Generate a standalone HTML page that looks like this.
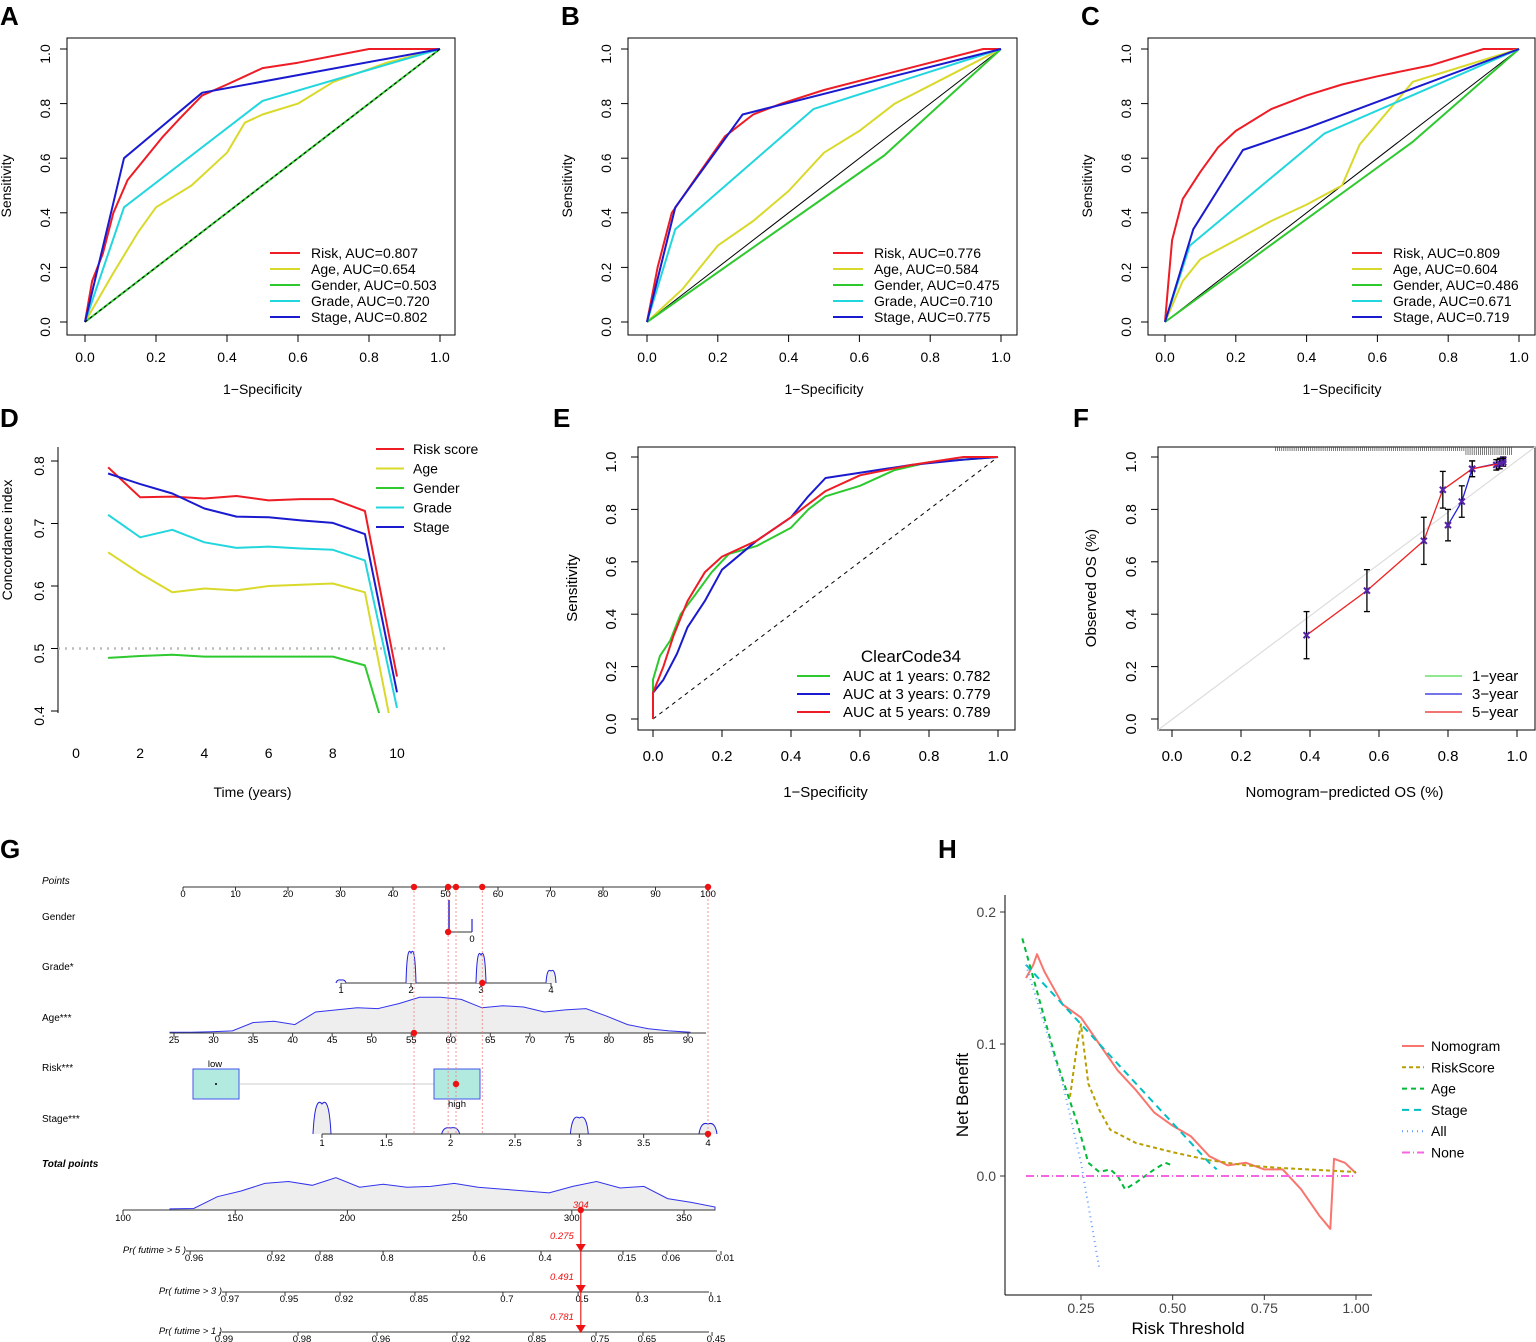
<!DOCTYPE html>
<html><head><meta charset="utf-8"><style>
body{margin:0;background:#fff}
svg{display:block;font-family:"Liberation Sans",Arial,sans-serif}
</style></head><body>
<svg id="fig" width="1536" height="1342" viewBox="0 0 1536 1342">
<defs>
<clipPath id="clipD"><rect x="58" y="447" width="387" height="266"/></clipPath>
<clipPath id="clipH"><rect x="1005" y="895" width="367" height="400"/></clipPath>
</defs>
<g id="root"></g>
</svg>
<script>
// ---------- DATA ----------
const rocLabels = ["Risk","Age","Gender","Grade","Stage"];
const rocColors = ["#EE1C25","#D9D92B","#2EC92E","#22D6DE","#1A1ACF"];
const aucA = ["0.807","0.654","0.503","0.720","0.802"];
const aucB = ["0.776","0.584","0.475","0.710","0.775"];
const aucC = ["0.809","0.604","0.486","0.671","0.719"];
const rocA = [
 [[0,0],[0.02,0.15],[0.05,0.25],[0.08,0.4],[0.12,0.52],[0.17,0.6],[0.22,0.68],[0.27,0.75],[0.33,0.83],[0.4,0.87],[0.45,0.9],[0.5,0.93],[0.6,0.95],[0.8,1],[1,1]],
 [[0,0],[0.08,0.18],[0.15,0.33],[0.2,0.42],[0.3,0.5],[0.4,0.62],[0.45,0.73],[0.5,0.76],[0.6,0.8],[0.7,0.88],[0.85,0.95],[1,1]],
 [[0,0],[1,1]],
 [[0,0],[0.11,0.42],[0.5,0.81],[1,1]],
 [[0,0],[0.11,0.6],[0.33,0.84],[1,1]]];
const rocB = [
 [[0,0],[0.03,0.2],[0.07,0.4],[0.15,0.55],[0.22,0.68],[0.3,0.76],[0.38,0.8],[0.5,0.85],[0.65,0.9],[0.8,0.95],[0.95,1],[1,1]],
 [[0,0],[0.1,0.12],[0.2,0.28],[0.3,0.37],[0.4,0.48],[0.5,0.62],[0.6,0.7],[0.7,0.8],[0.85,0.9],[1,1]],
 [[0,0],[0.67,0.61],[1,1]],
 [[0,0],[0.08,0.34],[0.47,0.78],[1,1]],
 [[0,0],[0.08,0.42],[0.27,0.76],[1,1]]];
const rocC = [
 [[0,0],[0.01,0.15],[0.02,0.3],[0.05,0.45],[0.1,0.55],[0.15,0.64],[0.2,0.7],[0.3,0.78],[0.4,0.83],[0.5,0.87],[0.6,0.9],[0.75,0.94],[0.9,1],[1,1]],
 [[0,0],[0.05,0.15],[0.1,0.23],[0.2,0.3],[0.3,0.37],[0.4,0.43],[0.5,0.5],[0.55,0.65],[0.7,0.88],[1,1]],
 [[0,0],[0.7,0.66],[1,1]],
 [[0,0],[0.07,0.28],[0.45,0.69],[1,1]],
 [[0,0],[0.08,0.34],[0.22,0.63],[0.4,0.71],[1,1]]];
const unitTicks = [0,0.2,0.4,0.6,0.8,1.0];

const cTime = [1,2,3,4,5,6,7,8,9,10];
const cLabels = ["Risk score","Age","Gender","Grade","Stage"];
const cRisk   = [0.79,0.742,0.743,0.74,0.744,0.737,0.739,0.739,0.72,0.455];
const cAge    = [0.654,0.62,0.59,0.596,0.593,0.6,0.602,0.604,0.59,0.33];
const cGender = [0.485,0.488,0.49,0.487,0.487,0.487,0.487,0.487,0.473,0.3];
const cGrade  = [0.714,0.678,0.69,0.67,0.661,0.663,0.66,0.658,0.641,0.405];
const cStage  = [0.78,0.763,0.748,0.724,0.711,0.71,0.705,0.701,0.683,0.43];
const dXTicks = [0,2,4,6,8,10];
const dYTicks = [0.4,0.5,0.6,0.7,0.8];

const tdLabels = ["AUC at 1 years: 0.782","AUC at 3 years: 0.779","AUC at 5 years: 0.789"];
const td1 = [[0,0],[0,0.15],[0.02,0.24],[0.05,0.3],[0.08,0.4],[0.12,0.47],[0.17,0.56],[0.22,0.63],[0.3,0.66],[0.4,0.73],[0.45,0.8],[0.5,0.85],[0.6,0.89],[0.7,0.95],[0.8,0.98],[1,1]];
const td3 = [[0,0],[0,0.1],[0.03,0.15],[0.07,0.25],[0.1,0.35],[0.15,0.45],[0.2,0.57],[0.3,0.68],[0.4,0.77],[0.45,0.85],[0.5,0.92],[0.6,0.94],[0.75,0.97],[0.9,0.99],[1,1]];
const td5 = [[0,0],[0,0.1],[0.03,0.2],[0.06,0.32],[0.1,0.45],[0.15,0.56],[0.2,0.62],[0.3,0.68],[0.4,0.77],[0.45,0.82],[0.5,0.87],[0.6,0.93],[0.75,0.97],[0.9,1],[1,1]];

const cal1 = [[0.94,0.97,0.02],[0.96,0.99,0.01]];
const cal3 = [[0.8,0.74,0.06],[0.84,0.83,0.06],[0.87,0.955,0.03],[0.96,0.98,0.015]];
const cal5 = [[0.39,0.32,0.09],[0.565,0.49,0.08],[0.73,0.68,0.09],[0.785,0.875,0.07],[0.87,0.955,0.03],[0.95,0.975,0.02]];

const dcaLabels = ["Nomogram","RiskScore","Age","Stage","All","None"];
const dcaNomo = [[0.1,0.15],[0.12,0.16],[0.13,0.168],[0.15,0.155],[0.18,0.14],[0.2,0.13],[0.25,0.12],[0.3,0.1],[0.35,0.08],[0.4,0.065],[0.45,0.048],[0.5,0.038],[0.55,0.03],[0.6,0.015],[0.65,0.008],[0.7,0.01],[0.75,0.005],[0.8,0.005],[0.85,-0.01],[0.9,-0.03],[0.93,-0.04],[0.94,0.013],[0.97,0.01],[1,0.002]];
const dcaRisk = [[0.22,0.06],[0.24,0.1],[0.25,0.115],[0.27,0.07],[0.3,0.05],[0.33,0.035],[0.4,0.025],[0.5,0.018],[0.6,0.012],[0.7,0.008],[0.8,0.006],[1,0.003]];
const dcaAge = [[0.09,0.18],[0.12,0.15],[0.15,0.12],[0.18,0.09],[0.21,0.065],[0.24,0.04],[0.27,0.01],[0.3,0.003],[0.33,0.005],[0.35,0],[0.37,-0.01],[0.4,-0.005],[0.45,0.005],[0.48,0.01],[0.5,0.008]];
const dcaStage = [[0.1,0.16],[0.2,0.13],[0.3,0.1],[0.4,0.07],[0.5,0.04],[0.6,0.01],[0.62,0.005]];
const dcaAll = [[0.1,0.16],[0.2,0.07],[0.25,0.01],[0.3,-0.07]];
const dcaNone = [[0.1,0],[1,0]];

// nomogram
const ptsTicks = [0,10,20,30,40,50,60,70,80,90,100];
const gradeTicks = [1,2,3,4];
const ageTicks = [25,30,35,40,45,50,55,60,65,70,75,80,85,90];
const stageTicks = [1,1.5,2,2.5,3,3.5,4];
const totTicks = [100,150,200,250,300,350];
const pr5Labels = ["0.96","0.92","0.88","0.8","0.6","0.4","0.15","0.06","0.01"];
const pr5Tot = [129.9,166.4,187.8,215.9,256.9,286.3,322.8,342.4,366.5];
const pr3Labels = ["0.97","0.95","0.92","0.85","0.7","0.5","0.3","0.1"];
const pr3Tot = [145.9,172.2,196.7,230.1,269.3,302.8,329.5,362];
const pr1Labels = ["0.99","0.98","0.96","0.92","0.85","0.75","0.65","0.45"];
const pr1Tot = [143.2,178,213.2,248.8,282.7,310.8,331.7,362.5];
const totalScore = 304;
const predVals = ["0.275","0.491","0.781"];
const ageDens = [0.02,0.02,0.03,0.05,0.25,0.28,0.2,0.5,0.55,0.6,0.58,0.7,0.85,0.85,0.8,0.6,0.65,0.62,0.5,0.55,0.58,0.4,0.2,0.1,0.05,0.02];
const totDens = [0.03,0.04,0.35,0.5,0.7,0.75,0.65,0.85,0.6,0.68,0.6,0.62,0.7,0.6,0.55,0.5,0.45,0.62,0.75,0.58,0.62,0.3,0.2,0.08];

// ---------- HELPERS ----------
const NS="http://www.w3.org/2000/svg";
const root=document.getElementById('root');
function el(tag,attrs,parent,text){const e=document.createElementNS(NS,tag);for(const k in attrs)e.setAttribute(k,attrs[k]);if(text!==undefined)e.textContent=text;(parent||root).appendChild(e);return e;}
function txt(x,y,s,opt,parent){opt=opt||{};const t=el('text',{x:x,y:y,'font-size':opt.size||14,'text-anchor':opt.anchor||'middle',fill:opt.fill||'#000'},parent,s);if(opt.rot)t.setAttribute('transform','rotate(-90 '+x+' '+y+')');if(opt.weight)t.setAttribute('font-weight',opt.weight);if(opt.italic)t.setAttribute('font-style','italic');return t;}
function line(x1,y1,x2,y2,st,w,parent,dash){const l=el('line',{x1:x1,y1:y1,x2:x2,y2:y2,stroke:st||'#000','stroke-width':w||1},parent);if(dash)l.setAttribute('stroke-dasharray',dash);return l;}
function poly(pts,fx,fy,col,w,parent,dash){const d=pts.map(p=>fx(p[0]).toFixed(1)+','+fy(p[1]).toFixed(1)).join(' ');const p=el('polyline',{points:d,fill:'none',stroke:col,'stroke-width':w||2,'stroke-linejoin':'round'},parent);if(dash)p.setAttribute('stroke-dasharray',dash);return p;}
function panelLetter(x,y,s){const t=txt(x,y,s,{size:26,weight:'bold',anchor:'start',name:'panel-letter-'+s.toLowerCase()});}
function lin(d0,d1,r0,r1){return v=>r0+(v-d0)*(r1-r0)/(d1-d0);}

// ---------- ROC PANELS ----------
function rocPanel(id,letter,bx0,bx1,fx,data,aucs,lx){
  const g=el('g',{},root);
  const fy=lin(0,1,322,49);
  panelLetter(bx0-67+0,25,letter);
  el('rect',{x:bx0,y:38,width:bx1-bx0,height:297,fill:'none',stroke:'#000'},g);
  unitTicks.forEach(t=>{line(fx(t),335,fx(t),342,'#000',1,g);txt(fx(t),362,t.toFixed(1),{name:'x-tick'},g);
    line(bx0,fy(t),bx0-7,fy(t),'#000',1,g);txt(bx0-17,fy(t)+5,t.toFixed(1),{rot:true,name:'y-tick'},g);});
  txt(fx(0.5),394,'1\u2212Specificity',{name:'x-axis-title'},g);
  txt(bx0-56,186,'Sensitivity',{rot:true,name:'y-axis-title'},g);
  line(fx(0),fy(0),fx(1),fy(1),'#000',1,g);
  data.forEach((s,i)=>{const p=poly(s,fx,fy,rocColors[i],2,g);});
  if(id==='a'){line(fx(0),fy(0),fx(1),fy(1),'#000',1,g,'3,3');}
  aucs.forEach((a,i)=>{const y=253+i*16;line(lx,y,lx+30,y,rocColors[i],2,g);
    const t=txt(lx+41,y+5,rocLabels[i]+', AUC='+a,{anchor:'start',name:'legend-entry'},g);});
}
rocPanel('a','A',67,455,lin(0,1,85,440),rocA,aucA,270);
rocPanel('b','B',628,1017,lin(0,1,647,1001),rocB,aucB,833);
rocPanel('c','C',1148,1535,lin(0,1,1165,1519),rocC,aucC,1352);

// ---------- PANEL D ----------
(function(){
  const g=el('g',{},root);
  panelLetter(0,427,'D');
  const fx=lin(0,10,76,397),fy=lin(0.4,0.8,711,461);
  line(58,713,58,447,'#000',1,g);
  dYTicks.forEach(t=>{line(58,fy(t),51,fy(t),'#000',1,g);txt(44,fy(t)+5,t.toFixed(1),{rot:true,name:'y-tick'},g);});
  line(76,740,397,740,'#fff',0,g);
  dXTicks.forEach(t=>{txt(fx(t),758,String(t),{name:'x-tick'},g);});
  txt(fx(5.5),797,'Time (years)',{name:'x-axis-title'},g);
  txt(12,540,'Concordance index',{rot:true,name:'y-axis-title'},g);
  line(58,fy(0.5),445,fy(0.5),'#bbb',2.5,g,'2,5');
  const series=[cRisk,cAge,cGender,cGrade,cStage];
  const cg=el('g',{'clip-path':'url(#clipD)'},g);
  series.forEach((s,i)=>{const p=poly(cTime.map((t,j)=>[t,s[j]]),fx,fy,rocColors[i],2,cg);});
  cLabels.forEach((l,i)=>{const y=449+i*19.5;line(376,y,404,y,rocColors[i],2,g);txt(413,y+5,l,{anchor:'start',name:'legend-entry'},g);});
})();

// ---------- PANEL E ----------
(function(){
  const g=el('g',{},root);
  panelLetter(553,427,'E');
  const fx=lin(0,1,653,998),fy=lin(0,1,719,457);
  el('rect',{x:638,y:447,width:377,height:283,fill:'none',stroke:'#000'},g);
  unitTicks.forEach(t=>{line(fx(t),730,fx(t),737,'#000',1,g);txt(fx(t),761,t.toFixed(1),{size:15,name:'x-tick'},g);
    line(638,fy(t),631,fy(t),'#000',1,g);txt(616,fy(t)+5,t.toFixed(1),{size:15,rot:true,name:'y-tick'},g);});
  txt(fx(0.5),797,'1\u2212Specificity',{size:15,name:'x-axis-title'},g);
  txt(577,588,'Sensitivity',{size:15,rot:true,name:'y-axis-title'},g);
  line(fx(0),fy(0),fx(1),fy(1),'#000',1,g,'4,4');
  const cols=['#2EC92E','#1A1ACF','#EE1C25'];
  [td1,td3,td5].forEach((s,i)=>{const p=poly(s,fx,fy,cols[i],2,g);});
  txt(911,662,'ClearCode34',{size:17,name:'legend-title'},g);
  tdLabels.forEach((l,i)=>{const y=676+i*18;line(797,y,830,y,cols[i],2,g);txt(843,y+5,l,{size:15,anchor:'start',name:'legend-entry'},g);});
})();

// ---------- PANEL F ----------
(function(){
  const g=el('g',{},root);
  panelLetter(1073,427,'F');
  const fx=lin(0,1,1172,1517),fy=lin(0,1,719,457);
  el('rect',{x:1158,y:447,width:377,height:283,fill:'none',stroke:'#000'},g);
  unitTicks.forEach(t=>{line(fx(t),730,fx(t),737,'#000',1,g);txt(fx(t),761,t.toFixed(1),{size:15,name:'x-tick'},g);
    line(1158,fy(t),1151,fy(t),'#000',1,g);txt(1136,fy(t)+5,t.toFixed(1),{size:15,rot:true,name:'y-tick'},g);});
  txt(fx(0.5),797,'Nomogram\u2212predicted OS (%)',{size:15,name:'x-axis-title'},g);
  txt(1096,588,'Observed OS (%)',{size:15,rot:true,name:'y-axis-title'},g);
  line(1158,730,1535,447,'#ddd',1.2,g);
  for(let v=0.3;v<=0.985;v+=0.006){const x=fx(v);line(x,447,x,447+(v>0.85?8:4),'#444',0.7,g);}
  const cols=['#4FD94F','#2222DD','#EE2222'];
  [cal1,cal3,cal5].forEach((s,i)=>{
    const p=poly(s,fx,fy,cols[i],1.3,g);
    s.forEach(q=>{const x=fx(q[0]);line(x,fy(q[1]-q[2]),x,fy(q[1]+q[2]),'#000',1.3,g);line(x-3,fy(q[1]-q[2]),x+3,fy(q[1]-q[2]),'#000',1.3,g);line(x-3,fy(q[1]+q[2]),x+3,fy(q[1]+q[2]),'#000',1.3,g);
      const y=fy(q[1]);line(x-3,y-3,x+3,y+3,'#5522aa',2,g);line(x-3,y+3,x+3,y-3,'#5522aa',2,g);});
  });
  ['1\u2212year','3\u2212year','5\u2212year'].forEach((l,i)=>{const y=676+i*18;line(1425,y,1462,y,cols[i],1.3,g);txt(1472,y+5,l,{size:15,anchor:'start',name:'legend-entry'},g);});
})();

// ---------- PANEL G: NOMOGRAM ----------
(function(){
  const g=el('g',{},root);
  panelLetter(0,858,'G');
  const px=lin(0,100,183,708);
  const sm={size:9.5};
  const lab=(y,s,it,b)=>txt(42,y,s,{size:10,anchor:'start',italic:it,weight:b,name:'nomogram-row-label'},g);
  // points axis
  lab(884,'Points',true);
  line(183,887,708,887,'#333',1,g);
  ptsTicks.forEach(t=>{line(px(t),887,px(t),891,'#333',1,g);txt(px(t),897,String(t),sm,g);});
  // gender
  lab(920,'Gender');
  line(449,932,472,932,'#333',1,g);line(449,932,449,900,'#2222dd',1.5,g);line(472,932,472,919,'#2222dd',1.2,g);
  txt(472,942,'0',sm,g);
  // grade
  lab(970,'Grade*');
  const gx=lin(1,4,341,551);
  line(341,983,551,983,'#333',1,g);
  gradeTicks.forEach(t=>{line(gx(t),983,gx(t),987,'#333',1,g);txt(gx(t),993,String(t),sm,g);});
  [[2,30],[3,28],[4,12],[1,3]].forEach(q=>{const x=gx(q[0]);el('path',{d:`M${x-5},983 Q${x-4},${983-q[1]*1.3} ${x},${983-q[1]} Q${x+4},${983-q[1]*1.3} ${x+5},983`,fill:'#eee',stroke:'#2222dd','stroke-width':1},g);});
  // age
  lab(1021,'Age***');
  const ax=lin(25,90,174,688);
  const agePts=ageDens.map((d,i)=>[170+i*(520/(ageDens.length-1)),1033-d*42]);
  el('path',{d:'M'+agePts.map(p=>p[0].toFixed(1)+','+p[1].toFixed(1)).join(' L')+' L690,1033 L170,1033 Z',fill:'#eee',stroke:'#3333ee','stroke-width':1},g);
  line(170,1033,706,1033,'#333',1,g);
  ageTicks.forEach(t=>{line(ax(t),1033,ax(t),1037,'#333',1,g);txt(ax(t),1043,String(t),sm,g);});
  // risk
  lab(1071,'Risk***');
  line(240,1084,434,1084,'#ccc',1,g);
  el('rect',{x:193,y:1069,width:46,height:30,fill:'#b3eae0',stroke:'#4455ee'},g);
  el('rect',{x:434,y:1069,width:46,height:30,fill:'#b3eae0',stroke:'#4455ee'},g);
  txt(215,1067,'low',sm,g);txt(457,1107,'high',sm,g);
  el('circle',{cx:216,cy:1084,r:1,fill:'#000'},g);
  // stage
  lab(1122,'Stage***');
  const sx=lin(1,4,322,708);
  [[1,30],[2,6],[3,16],[4,10]].forEach(q=>{const x=sx(q[0]);el('path',{d:`M${x-9},1134 Q${x-7},${1134-q[1]*1.3} ${x},${1134-q[1]} Q${x+7},${1134-q[1]*1.3} ${x+9},1134`,fill:'#eee',stroke:'#2222dd','stroke-width':1},g);});
  line(322,1134,708,1134,'#333',1,g);
  stageTicks.forEach(t=>{line(sx(t),1134,sx(t),1138,'#333',1,g);txt(sx(t),1146,String(t),sm,g);});
  // total points
  lab(1167,'Total points',true,'bold');
  const tx=lin(100,350,123,684);
  const totPts=totDens.map((d,i)=>[170+i*(545/(totDens.length-1)),1210-d*38]);
  el('path',{d:'M'+totPts.map(p=>p[0].toFixed(1)+','+p[1].toFixed(1)).join(' L')+' L715,1210 L170,1210 Z',fill:'#eee',stroke:'#3333ee','stroke-width':1},g);
  line(123,1210,715,1210,'#333',1,g);
  totTicks.forEach(t=>{line(tx(t),1210,tx(t),1214,'#333',1,g);txt(tx(t),1221,String(t),sm,g);});
  const prRow=(y,x0,x1,labels,tots,name)=>{
    txt(x0,y+2,name,{size:9.5,anchor:'end',italic:true,name:'nomogram-row-label'},g);
    line(x0,y,x1,y,'#333',1,g);
    labels.forEach((l,i)=>{const x=tx(tots[i]);line(x,y,x,y+4,'#333',1,g);txt(x+4,y+10,l,sm,g);});
  };
  prRow(1251,186,717,pr5Labels,pr5Tot,'Pr( futime > 5 )');
  prRow(1292,222,709,pr3Labels,pr3Tot,'Pr( futime > 3 )');
  prRow(1332,222,709,pr1Labels,pr1Tot,'Pr( futime > 1 )');
  // red markers
  const rx=tx(totalScore);
  [px(44),px(50.5),px(52),px(57),px(100)].forEach(x=>line(x,887,x,1134,'#f08080',0.8,g,'2,2'));
  [[px(44),887],[px(50.5),887],[px(52),887],[px(57),887],[px(100),887],[px(50.5),932],[px(57),983],[px(44),1033],[px(52),1084],[px(100),1134]].forEach(c=>el('circle',{cx:c[0],cy:c[1],r:3.2,fill:'#ee1111'},g));
  line(rx,1210,rx,1332,'#ee3333',1.3,g);
  el('circle',{cx:rx,cy:1210,r:3.2,fill:'#ee1111'},g);
  txt(rx,1208,String(totalScore),{size:9.5,fill:'#ee1111',italic:true,name:'total-score'},g);
  [1251,1292,1332].forEach((y,i)=>{el('path',{d:`M${rx-5},${y-7} L${rx+5},${y-7} L${rx},${y+1} Z`,fill:'#ee1111'},g);
    txt(rx-7,y-12,predVals[i],{size:9.5,fill:'#ee1111',italic:true,anchor:'end',name:'predicted-prob'},g);});
})();

// ---------- PANEL H: DCA ----------
(function(){
  const g=el('g',{},root);
  panelLetter(938,858,'H');
  const fx=lin(0.25,1,1081,1356),fy=lin(0,0.2,1176,912);
  line(1005,895,1005,1295,'#000',1,g);line(1005,1295,1372,1295,'#000',1,g);
  [0,0.1,0.2].forEach(t=>{line(1005,fy(t),1000,fy(t),'#333',1,g);txt(996,fy(t)+5,t.toFixed(1),{size:14,anchor:'end',fill:'#444',name:'y-tick'},g);});
  [0.25,0.5,0.75,1].forEach(t=>{line(fx(t),1295,fx(t),1300,'#333',1,g);txt(fx(t),1313,t.toFixed(2),{size:14,fill:'#444',name:'x-tick'},g);});
  txt(1188,1334,'Risk Threshold',{size:17,name:'x-axis-title'},g);
  txt(968,1095,'Net Benefit',{size:17,rot:true,name:'y-axis-title'},g);
  const cols=['#F8766D','#B79F00','#00BA38','#00BFC4','#619CFF','#F564E3'];
  const dashes=[null,'4,3','5,4','7,5','1,4','8,3,1,3'];
  const cg=el('g',{'clip-path':'url(#clipH)'},g);
  [dcaNomo,dcaRisk,dcaAge,dcaStage,dcaAll,dcaNone].forEach((s,i)=>{const p=poly(s,fx,fy,cols[i],2,cg,dashes[i]);});
  dcaLabels.forEach((l,i)=>{const y=1046+i*21.3;line(1402,y,1424,y,cols[i],2,g,dashes[i]);txt(1431,y+5,l,{size:14,anchor:'start',name:'legend-entry'},g);});
})();
</script>
</body></html>
